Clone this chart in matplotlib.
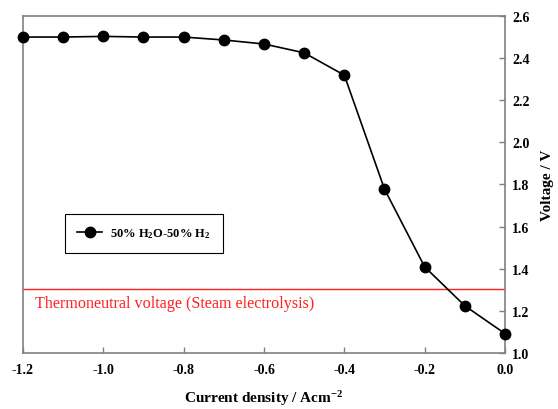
import matplotlib
matplotlib.use("Agg")
from matplotlib import pyplot as plt

# =============================================================================
# Data
# =============================================================================
current_density = [-1.2, -1.1, -1.0, -0.9, -0.8, -0.7, -0.6, -0.5, -0.4,
    -0.3, -0.2, -0.1, 0.0]
voltage = [2.50, 2.50, 2.503, 2.50, 2.50, 2.486, 2.467, 2.425, 2.319,
    1.778, 1.409, 1.224, 1.092]
thermoneutral = 1.304
series_label = '50% H$_2$O-50% H$_2$'
xticks = [-1.2, -1.0, -0.8, -0.6, -0.4, -0.2, 0.0]
yticks = [1.0, 1.2, 1.4, 1.6, 1.8, 2.0, 2.2, 2.4, 2.6]

# =============================================================================
# Plot parameters
# =============================================================================
matplotlib.rcParams['font.family'] = 'Liberation Serif'
matplotlib.rcParams['mathtext.fontset'] = 'custom'
matplotlib.rcParams['mathtext.rm'] = 'Liberation Serif:bold'
matplotlib.rcParams['mathtext.it'] = 'Liberation Serif:bold'
matplotlib.rcParams['mathtext.bf'] = 'Liberation Serif:bold'
spine_color = '#808080'

fig = plt.figure(figsize=(5.58, 4.10), dpi=100)
ax = fig.add_axes([0.0412, 0.1366, 0.8638, 0.822])

# Data curve
ax.plot(current_density, voltage, color='k', linewidth=1.2, marker='o',
    markersize=7.5, clip_on=False, zorder=3, label=series_label)

# Thermoneutral voltage
ax.axhline(thermoneutral, color='#ff2020', linewidth=1.0)
ax.text(-1.171, thermoneutral - 0.028,
    'Thermoneutral voltage (Steam electrolysis)',
    color='#ff2020', fontsize=11.6, va='top', ha='left')

# Axes
ax.set_xlim(-1.2, 0.0)
ax.set_ylim(1.0, 2.6)
for spine in ax.spines.values():
    spine.set_color(spine_color)
    spine.set_linewidth(1.2)
ax.yaxis.tick_right()
ax.yaxis.set_label_position('right')
ax.set_xticks(xticks)
ax.set_xticklabels([f'{t:.1f}' for t in xticks], fontweight='bold')
ax.set_yticks(yticks)
ax.set_yticklabels([f'{t:.1f}' for t in yticks], fontweight='bold')
ax.tick_params(axis='both', direction='in', length=4, width=1,
    color=spine_color, labelsize=10)
ax.tick_params(axis='x', pad=7)
ax.tick_params(axis='y', pad=5)

ax.set_xlabel('Current density / Acm$^{-2}$', fontsize=11, fontweight='bold',
    labelpad=9)
ax.set_ylabel('Voltage / V', fontsize=11, fontweight='bold', labelpad=8)

# Legend
leg = ax.legend(loc='upper left', bbox_to_anchor=(0.087, 0.412),
    prop={'weight': 'bold', 'size': 9}, fancybox=False,
    edgecolor='k', framealpha=1, handlelength=2.0, borderpad=1.0,
    handletextpad=0.6, borderaxespad=0)
leg.get_frame().set_linewidth(0.8)

fig.savefig('out.png', dpi=100)
